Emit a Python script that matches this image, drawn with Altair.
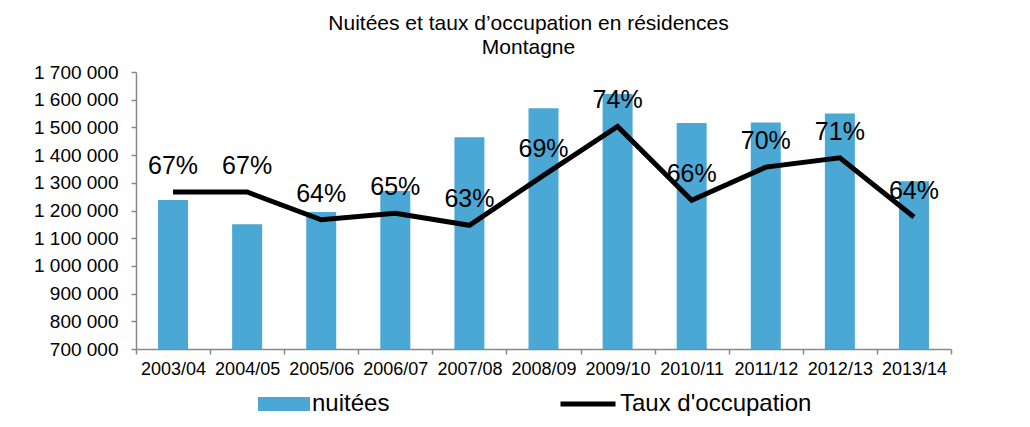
import altair as alt
import pandas as pd

saisons = ["2003/04", "2004/05", "2005/06", "2006/07", "2007/08", "2008/09",
           "2009/10", "2010/11", "2011/12", "2012/13", "2013/14"]
nuitees = [1238000, 1150000, 1195000, 1270000, 1464000, 1569000,
           1621000, 1516000, 1518000, 1550000, 1306000]
taux = [0.670, 0.670, 0.640, 0.647, 0.634, 0.688,
        0.741, 0.661, 0.697, 0.707, 0.643]
y_ticks = [700000, 800000, 900000, 1000000, 1100000, 1200000,
           1300000, 1400000, 1500000, 1600000, 1700000]
pct_ticks = [0.50, 0.55, 0.60, 0.65, 0.70, 0.75, 0.80]

df = pd.DataFrame({
    "saison": saisons,
    "nuitees": nuitees,
    "taux": taux,
    "s1": ["nuitées"] * len(saisons),
    "s2": ["Taux d'occupation"] * len(saisons),
})

FONT = "Liberation Sans"
AX = "#888888"

x_enc = alt.X(
    "saison:N", sort=saisons, title=None,
    scale=alt.Scale(paddingInner=0, paddingOuter=0),
    axis=alt.Axis(labelAngle=0, labelFontSize=18, labelFont=FONT, labelColor="black",
                  domainColor=AX, domainWidth=1.5, tickColor=AX, tickWidth=1.5,
                  tickSize=5, labelPadding=6, tickBand="extent", grid=False),
)

base = alt.Chart(df)

bars = base.mark_bar(size=30).encode(
    x=x_enc,
    y=alt.Y("nuitees:Q", title=None,
            scale=alt.Scale(domain=[700000, 1700000], nice=False, zero=False),
            axis=alt.Axis(values=y_ticks, grid=False, labelFontSize=19, labelFont=FONT,
                          labelColor="black", domainColor=AX, domainWidth=1.5,
                          tickColor=AX, tickWidth=1.5, tickSize=5, labelPadding=13,
                          labelExpr="replace(replace(format(datum.value, ','), ',', ' '), ',', ' ')")),
    y2=alt.datum(700000),
    color=alt.Color("s1:N", scale=alt.Scale(range=["#4BA7D4"]),
                    legend=alt.Legend(title=None, orient="none", legendX=122, legendY=306,
                                      symbolType="M-1,-0.27L1,-0.27L1,0.27L-1,0.27Z",
                                      symbolSize=2704, symbolStrokeWidth=0,
                                      labelFontSize=24, labelFont=FONT, labelColor="black",
                                      labelOffset=2, labelLimit=400, padding=0)),
)

line = base.mark_line(strokeWidth=5, strokeJoin="miter").encode(
    x=x_enc,
    y=alt.Y("taux:Q", title=None,
            scale=alt.Scale(domain=[0.5, 0.8], nice=False, zero=False),
            axis=alt.Axis(orient="right", values=pct_ticks, format=".0%", grid=False,
                          labelFontSize=17, labelFont=FONT, labelColor="black",
                          domainColor=AX, domainWidth=1.5, tickColor=AX, tickWidth=1.5,
                          tickSize=5, labelPadding=7)),
    stroke=alt.Stroke("s2:N", scale=alt.Scale(range=["black"]),
                      legend=alt.Legend(title=None, orient="none", legendX=422, legendY=302,
                                        symbolType="stroke", symbolSize=3025,
                                        symbolStrokeWidth=5, labelFontSize=24,
                                        labelFont=FONT, labelColor="black",
                                        labelOffset=2, labelLimit=400, padding=0)),
)

labels = base.mark_text(fontSize=25, font=FONT, color="black", dy=-26, baseline="middle").encode(
    x=x_enc,
    y=alt.Y("taux:Q", scale=alt.Scale(domain=[0.5, 0.8], nice=False, zero=False), axis=None),
    text=alt.Text("taux:Q", format=".0%"),
)

chart = alt.layer(bars, alt.layer(line, labels)).resolve_scale(
    y="independent"
).properties(
    width=815, height=277,
    autosize=alt.AutoSizeParams(type="none"),
    padding={"left": 128, "top": 64, "right": 71, "bottom": 70},
    title=alt.TitleParams(
        text=["Nuitées et taux d’occupation en résidences", "Montagne"],
        fontSize=21, font=FONT, fontWeight="normal", color="black",
        anchor="middle", dx=-15, offset=5, lineHeight=24,
    ),
).configure_view(stroke=None)

chart.save("out.html", embed_options={"renderer": "svg", "actions": False})
